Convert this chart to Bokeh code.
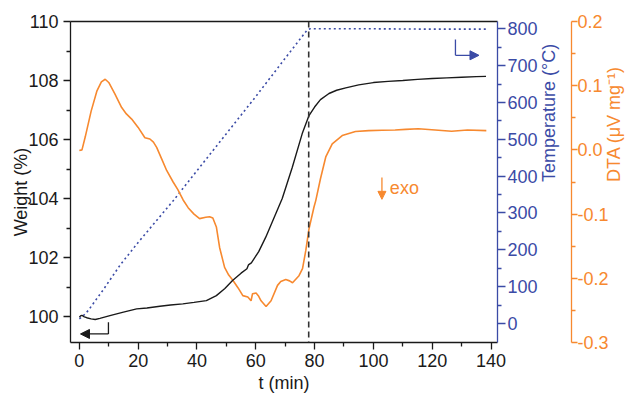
import math
from bokeh.plotting import figure
from bokeh.models import (Range1d, LinearAxis, FixedTicker, PrintfTickFormatter,
                          Arrow, NormalHead, Span, Label)
from bokeh.embed import file_html
from bokeh.resources import INLINE

# ---- data -------------------------------------------------------------
weight_t = [0, 0.5, 0.9, 1.5, 2.5, 4, 5.4, 7, 10.4, 15, 19.5, 23, 27.4, 31, 35.2,
            39, 43.2, 46.6, 49.5, 52.1, 55, 57, 57.5, 58.5, 61, 63.4, 66, 69,
            72.4, 75.8, 78.1, 80, 82, 84.9, 87.5, 90.6, 95, 100, 105, 110, 115,
            120, 125, 130, 135, 138.3]
weight = [99.98, 100.03, 100.04, 100.0, 99.96, 99.92, 99.9, 99.94, 100.03,
          100.15, 100.26, 100.29, 100.35, 100.39, 100.43, 100.48, 100.54,
          100.71, 100.95, 101.22, 101.47, 101.62, 101.75, 101.82, 102.2,
          102.69, 103.3, 104.0, 105.05, 106.2, 106.81, 107.1, 107.35, 107.56,
          107.67, 107.75, 107.85, 107.93, 107.97, 108.0, 108.04, 108.07,
          108.09, 108.11, 108.13, 108.14]

temp_t = [0, 1, 3, 8, 14, 20, 32, 45, 60, 70, 77.5, 78.5, 100, 120, 138.3]
temperature = [13, 18, 35, 90, 160, 220, 334, 465, 616, 720, 797, 800, 800, 799, 799]

dta_t = [0, 0.9, 2, 4, 6, 7.5, 8.8, 10, 12, 14.4, 16, 17.8, 20, 22.3, 24, 25.2,
         26.3, 28, 29.7, 31.9, 33.5, 35.3, 37, 39, 40.9, 43, 44.3, 45.4, 46.6,
         47.7, 49.4, 50.8, 52.2, 54, 55.6, 57.3, 58.4, 58.9, 60.1, 61, 61.8,
         63.5, 65.2, 67.4, 68.5, 70.2, 71.5, 72.5, 74.7, 75.9, 77, 78.1, 79.8,
         80.4, 82, 83.8, 86, 89.4, 93.9, 98.4, 103, 107.4, 111, 115.3, 121,
         126.6, 132, 138.4]
dta = [-0.001, 0.0, 0.02, 0.06, 0.092, 0.106, 0.110, 0.105, 0.088, 0.066,
       0.056, 0.048, 0.035, 0.019, 0.017, 0.012, 0.004, -0.014, -0.032, -0.05,
       -0.062, -0.078, -0.09, -0.1, -0.107, -0.105, -0.104, -0.106, -0.12,
       -0.152, -0.183, -0.195, -0.203, -0.215, -0.227, -0.229, -0.235, -0.224,
       -0.223, -0.228, -0.235, -0.244, -0.235, -0.211, -0.205, -0.202, -0.204,
       -0.207, -0.196, -0.185, -0.157, -0.123, -0.089, -0.079, -0.045, -0.011,
       0.0095, 0.0224, 0.0287, 0.030, 0.0305, 0.031, 0.032, 0.033, 0.031,
       0.029, 0.031, 0.030]

ramp_end = 78  # min, end of the heating ramp

t_ticks = [0, 20, 40, 60, 80, 100, 120, 140]
weight_ticks = [100, 102, 104, 106, 108, 110]
temp_ticks = [0, 100, 200, 300, 400, 500, 600, 700, 800]
dta_ticks = [-0.3, -0.2, -0.1, 0.0, 0.1, 0.2]

# ---- styling ----------------------------------------------------------
FONT = "Liberation Sans"
FS = "18px"
BLACK = "#1a1a1a"
BLUE = "#3b4ba6"
ORANGE = "#f7892f"
NBSP = "\u00a0"  # trailing pad lowers the vertical titles a little

p = figure(width=636, height=398, output_backend="svg", toolbar_location=None,
           x_range=Range1d(-3.0, 142.2), y_range=Range1d(99.12, 110.0),
           min_border_left=70, min_border_right=120, min_border_top=21,
           min_border_bottom=56)
p.extra_y_ranges = {"temp": Range1d(-51.6, 819.8), "dta": Range1d(-0.3, 0.2)}
p.grid.visible = False
p.outline_line_color = None
p.background_fill_color = "white"
p.border_fill_color = "white"


def style_axis(ax, color, label):
    ax.axis_label = label
    ax.axis_label_text_font = FONT
    ax.axis_label_text_font_size = FS
    ax.axis_label_text_font_style = "normal"
    ax.axis_label_text_color = color
    ax.major_label_text_font = FONT
    ax.major_label_text_font_size = FS
    ax.major_label_text_color = color
    ax.axis_line_color = color
    ax.axis_line_width = 1.3
    ax.major_tick_line_color = color
    ax.minor_tick_line_color = color
    ax.major_tick_line_width = 1.3
    ax.minor_tick_line_width = 1.3
    ax.major_tick_in = 0
    ax.major_tick_out = 7
    ax.minor_tick_in = 0
    ax.minor_tick_out = 4


# bottom (time)
xa = p.xaxis[0]
style_axis(xa, BLACK, "t (min)")
xa.ticker = FixedTicker(ticks=t_ticks, minor_ticks=[t + 10 for t in t_ticks[:-1]])
xa.major_label_standoff = 4
xa.axis_label_standoff = 3

# left (weight)
ya = p.yaxis[0]
style_axis(ya, BLACK, "Weight (%)" + NBSP * 4)
ya.ticker = FixedTicker(ticks=weight_ticks, minor_ticks=[w + 1 for w in weight_ticks[:-1]])
ya.major_label_standoff = 5
ya.axis_label_standoff = -6

# top frame line
top = LinearAxis(ticker=FixedTicker(ticks=[]), axis_line_color=BLACK, axis_line_width=1.3)
p.add_layout(top, "above")

# right: temperature
ta = LinearAxis(y_range_name="temp")
style_axis(ta, BLUE, "Temperature (°C)" + NBSP * 3)
ta.ticker = FixedTicker(ticks=temp_ticks, minor_ticks=[v + 50 for v in temp_ticks[:-1]])
ta.major_tick_out = 8
ta.major_label_standoff = 2
ta.axis_label_standoff = 8
ta.axis_label_orientation = math.pi / 2
p.add_layout(ta, "right")

# right: DTA
da = LinearAxis(y_range_name="dta")
style_axis(da, ORANGE, "DTA (μV mg⁻¹)" + NBSP * 4)
da.ticker = FixedTicker(ticks=dta_ticks, minor_ticks=[-0.25, -0.15, -0.05, 0.05, 0.15])
da.formatter = PrintfTickFormatter(format="%.1f")
da.major_tick_out = 6
da.major_label_standoff = 0
da.axis_label_standoff = 2
da.axis_label_orientation = math.pi / 2
p.add_layout(da, "right")

# curves
p.line(temp_t, temperature, y_range_name="temp", line_color=BLUE,
       line_width=1.6, line_dash="2 3")
p.line(dta_t, dta, y_range_name="dta", line_color=ORANGE, line_width=1.6)
p.line(weight_t, weight, line_color=BLACK, line_width=1.4)

p.add_layout(Span(location=ramp_end, dimension="height", line_color="#333333",
                  line_width=1.6, line_dash="6 4"))

# axis-pointer arrows
p.add_layout(Arrow(end=None, x_start=9.9, y_start=99.81, x_end=9.9, y_end=99.41,
                   line_color=BLACK, line_width=1.3))
p.add_layout(Arrow(end=NormalHead(size=9, fill_color=BLACK, line_color=BLACK),
                   x_start=9.9, y_start=99.41, x_end=0.4, y_end=99.41,
                   line_color=BLACK, line_width=1.3))
p.add_layout(Arrow(end=None, x_start=127.9, y_start=771, x_end=127.9, y_end=728,
                   y_range_name="temp", line_color=BLUE, line_width=1.3))
p.add_layout(Arrow(end=NormalHead(size=9, fill_color=BLUE, line_color=BLUE),
                   x_start=127.9, y_start=728, x_end=135.9, y_end=728,
                   y_range_name="temp", line_color=BLUE, line_width=1.3))

# exo marker
p.add_layout(Arrow(end=NormalHead(size=8, fill_color=ORANGE, line_color=ORANGE),
                   x_start=102.9, y_start=-0.043, x_end=102.9, y_end=-0.077,
                   y_range_name="dta", line_color=ORANGE, line_width=1.3))
p.add_layout(Label(x=105.6, y=-0.06, y_range_name="dta", text="exo",
                   text_color=ORANGE, text_font=FONT, text_font_size=FS,
                   text_baseline="middle"))

open("out.html", "w").write(file_html(p, INLINE))
